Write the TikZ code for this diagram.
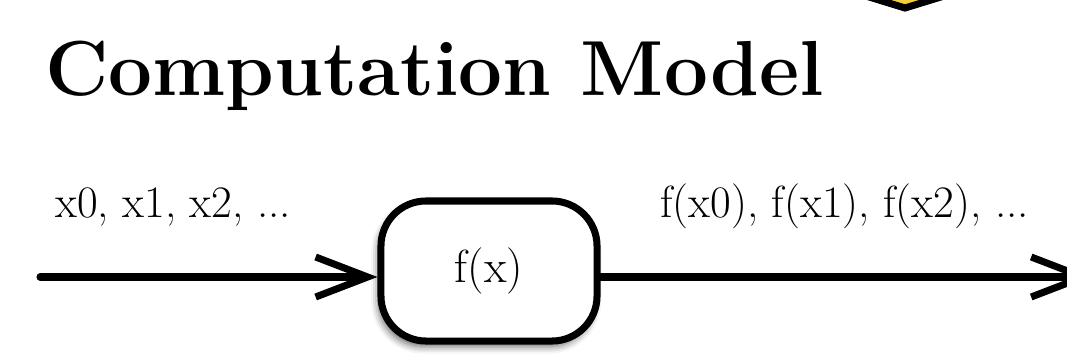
\documentclass[tikz,border=0pt]{standalone}
\usepackage{fontspec}
\usepackage{xcolor}
\usetikzlibrary{arrows.meta,positioning,shadows.blur}
\definecolor{ink}{HTML}{000000}
\definecolor{badge}{HTML}{F2CF3A}
\tikzset{
  title/.style={anchor=base west,font=\fontsize{55.5}{60}\selectfont\bfseries,text=ink,inner sep=0pt},
  stream/.style={anchor=base west,font=\fontsize{32}{36}\selectfont,text=ink,inner sep=0pt},
  func/.style={draw=ink,line width=5pt,fill=white,rounded corners=32pt,minimum width=5.4cm,minimum height=3.5cm,font=\fontsize{33}{36}\selectfont,
    blur shadow={shadow xshift=-2pt,shadow yshift=-4pt,shadow blur radius=5pt,shadow opacity=60}},
  flow/.style={-{Straight Barb[length=1.3cm,width=1.0cm,line width=5pt]},line width=5pt,draw=ink,line cap=round}
}
\begin{document}
\begin{tikzpicture}[x=0.025cm,y=-0.025cm]
        \useasboundingbox (0,0) rectangle (1067,357);
        % badge cut off at the top edge
        \path[draw=ink,fill=badge,line width=5pt,line join=miter] (840,-12) -- (905,8) -- (970,-12) -- cycle;
        \node[title] (head) at (45,95) {Computation Model};
        \node[func] (fx) at (489,271) {f(x)};
        \node[stream] (inlbl) at (55,217) {x0, x1, x2, ...};
        \node[stream] (outlbl) at (660,217) {f(x0), f(x1), f(x2), ...};
        \coordinate (src) at (40,277);
        \coordinate (sink) at (1093,277);
        \draw[flow] (src) -- (fx.west |- src);
        \draw[flow] (fx.east |- sink) -- (sink);
      \end{tikzpicture}
\end{document}
